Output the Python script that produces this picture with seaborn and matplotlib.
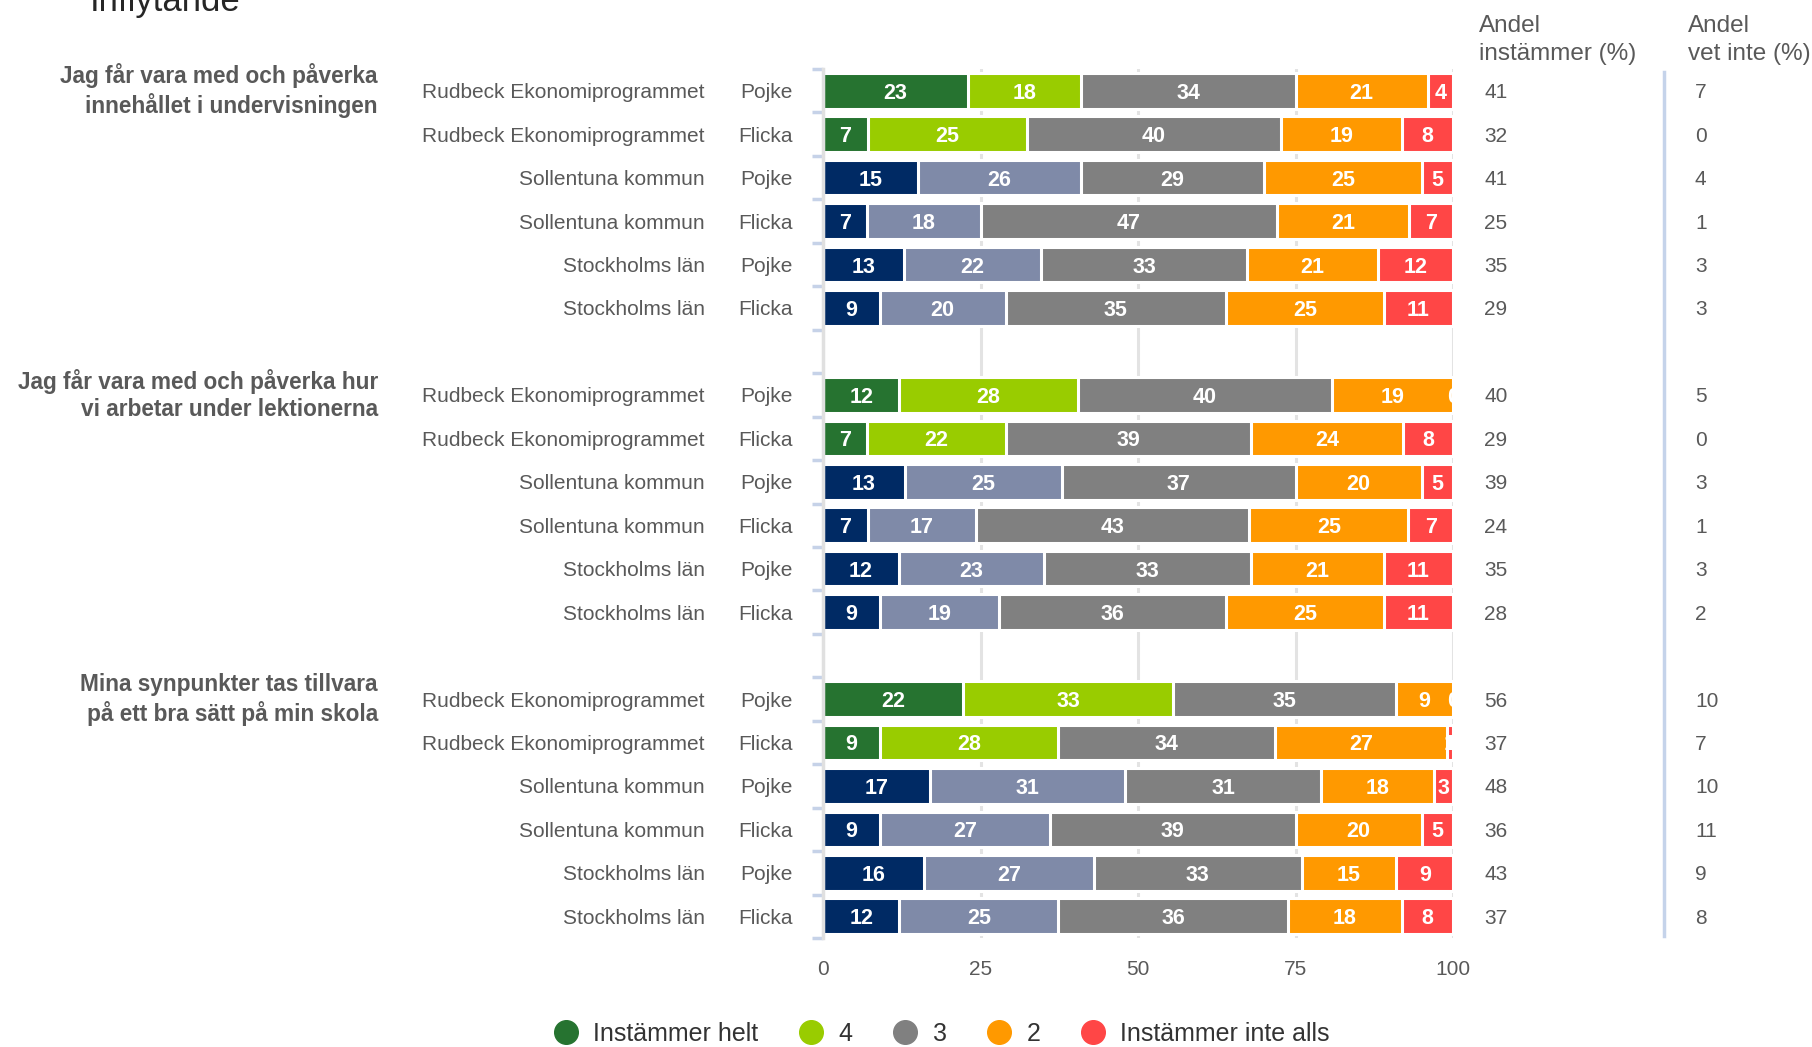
import numpy as np
import pandas as pd
import matplotlib
matplotlib.use("Agg")
import matplotlib.pyplot as plt
import matplotlib.transforms as mtrans
from matplotlib.lines import Line2D
import seaborn as sns

# Data
fragor = [
    "Jag får vara med och påverka\ninnehållet i undervisningen",
    "Jag får vara med och påverka hur\nvi arbetar under lektionerna",
    "Mina synpunkter tas tillvara\npå ett bra sätt på min skola",
]
enheter = ["Rudbeck Ekonomiprogrammet", "Rudbeck Ekonomiprogrammet",
           "Sollentuna kommun", "Sollentuna kommun",
           "Stockholms län", "Stockholms län"]
kon = ["Pojke", "Flicka", "Pojke", "Flicka", "Pojke", "Flicka"]
nivaer = ["Instämmer helt", "4", "3", "2", "Instämmer inte alls"]

# svar per fråga: rader = enhet/kön, kolumner = nivå
svar_1 = [[23, 18, 34, 21, 4], [7, 25, 40, 19, 8], [15, 26, 29, 25, 5],
          [7, 18, 47, 21, 7], [13, 22, 33, 21, 12], [9, 20, 35, 25, 11]]
svar_2 = [[12, 28, 40, 19, 0], [7, 22, 39, 24, 8], [13, 25, 37, 20, 5],
          [7, 17, 43, 25, 7], [12, 23, 33, 21, 11], [9, 19, 36, 25, 11]]
svar_3 = [[22, 33, 35, 9, 0], [9, 28, 34, 27, 1], [17, 31, 31, 18, 3],
          [9, 27, 39, 20, 5], [16, 27, 33, 15, 9], [12, 25, 36, 18, 8]]
andel_instammer = [41, 32, 41, 25, 35, 29, 40, 29, 39, 24, 35, 28, 56, 37, 48, 36, 43, 37]
andel_vet_inte = [7, 0, 4, 1, 3, 3, 5, 0, 3, 1, 3, 2, 10, 7, 10, 11, 9, 8]

farger_rudbeck = ["#267330", "#99cc00"]
farger_ovriga = ["#002a64", "#7f8aa8"]
farger_gemensam = ["#808080", "#ff9900", "#ff4646"]
gra_text = "#595959"

# Bygg tabell
rader = []
for g, svar in enumerate([svar_1, svar_2, svar_3]):
    for i, v in enumerate(svar):
        rader.append({"pos": g * 7 + i, "grupp": g, "enhet": enheter[i], "kon": kon[i],
                      **{f"n{k}": v[k] for k in range(5)}})
df = pd.DataFrame(rader)
df["summa"] = df[[f"n{k}" for k in range(5)]].sum(axis=1)
for k in range(5):
    df[f"p{k}"] = df[f"n{k}"] / df["summa"] * 100
    df[f"kum{k}"] = df[[f"p{j}" for j in range(k + 1)]].sum(axis=1)
df["rudbeck"] = df["enhet"].str.startswith("Rudbeck")

plt.rcParams["font.family"] = ["Liberation Sans", "DejaVu Sans"]
fig = plt.figure(figsize=(18.12, 10.47), dpi=100)
ax = fig.add_axes([0.4542, 0.1041, 0.3477, 0.8300])

# gridlinjer bakom staplarna
for xv in [25, 50, 75, 100]:
    ax.axvline(xv, color="#e3e3e3", lw=2.2, zorder=0)

# staplade staplar: ritas som kumulativa staplar, störst först
for k in range(4, -1, -1):
    if k < 2:
        df["farg"] = np.where(df["rudbeck"], farger_rudbeck[k], farger_ovriga[k])
    else:
        df["farg"] = farger_gemensam[k - 2]
    sns.barplot(data=df, x=f"kum{k}", y="pos", hue="farg",
                palette={c: c for c in df["farg"].unique()}, saturation=1,
                orient="y", native_scale=True, dodge=False, legend=False,
                width=0.82, edgecolor="white", linewidth=2.2, ax=ax, zorder=2)

# etiketter i staplarna
for _, r in df.iterrows():
    for k in range(5):
        mitt = r[f"kum{k}"] - r[f"p{k}"] / 2
        ax.text(mitt, r["pos"], str(r[f"n{k}"]), ha="center", va="center_baseline",
                color="white", fontsize=15.5, fontweight="bold", clip_on=True, zorder=5)

ax.set_xlim(0, 100)
ax.set_ylim(19.5, -0.5)
ax.set_xlabel("")
ax.set_ylabel("")
ax.set_xticks([0, 25, 50, 75, 100])
ax.tick_params(axis="x", length=0, pad=16, labelsize=15, labelcolor=gra_text)
ax.set_yticks(np.arange(-0.5, 20, 1))
ax.set_yticklabels([])
ax.tick_params(axis="y", length=8, width=2.5, color="#c6d2e8")
for s in ["top", "right", "bottom"]:
    ax.spines[s].set_visible(False)
ax.spines["left"].set_color("#e0e0e0")
ax.spines["left"].set_linewidth(2.5)
ax.grid(False)

# texter till vänster och höger
tr = mtrans.blended_transform_factory(fig.transFigure, ax.transData)
for _, r in df.iterrows():
    ax.text(0.389, r["pos"], r["enhet"], transform=tr, ha="right", va="center_baseline",
            fontsize=15, color=gra_text)
    ax.text(0.4376, r["pos"], r["kon"], transform=tr, ha="right", va="center_baseline",
            fontsize=15, color=gra_text)
for i, p in enumerate(df["pos"]):
    ax.text(0.819, p, str(andel_instammer[i]), transform=tr, ha="left",
            va="center_baseline", fontsize=15, color=gra_text)
    ax.text(0.9354, p, str(andel_vet_inte[i]), transform=tr, ha="left",
            va="center_baseline", fontsize=15, color=gra_text)
for g, f in enumerate(fragor):
    ax.text(0.2086, g * 7, f, transform=tr, ha="right", va="center", fontsize=16.3,
            fontweight="bold", color=gra_text, linespacing=1.25)

fig.text(0.816, 1 - 40 / 1047, "Andel\ninstämmer (%)", ha="left", va="center",
         fontsize=17.5, color=gra_text, linespacing=1.4)
fig.text(0.9316, 1 - 40 / 1047, "Andel\nvet inte (%)", ha="left", va="center",
         fontsize=17.5, color=gra_text, linespacing=1.4)
fig.add_artist(Line2D([0.9183, 0.9183], [1 - 72 / 1047, 1 - 936 / 1047],
                      transform=fig.transFigure, color="#c5d3ea", lw=2.5))

fig.text(0.0497, 1 - 11 / 1047, "Inflytande", ha="left", va="baseline",
         fontsize=25, color="#262626")

# legend
handles = [Line2D([], [], marker="o", ls="", markersize=17, color=c)
           for c in [farger_rudbeck[0], farger_rudbeck[1]] + farger_gemensam]
fig.legend(handles, nivaer, loc="center", bbox_to_anchor=(0.519, 1 - 1034 / 1047),
           ncol=5, frameon=False, fontsize=18, handletextpad=0.5, columnspacing=1.5,
           handlelength=1.2, labelcolor="#333333")

fig.savefig("out.png", dpi=100)
